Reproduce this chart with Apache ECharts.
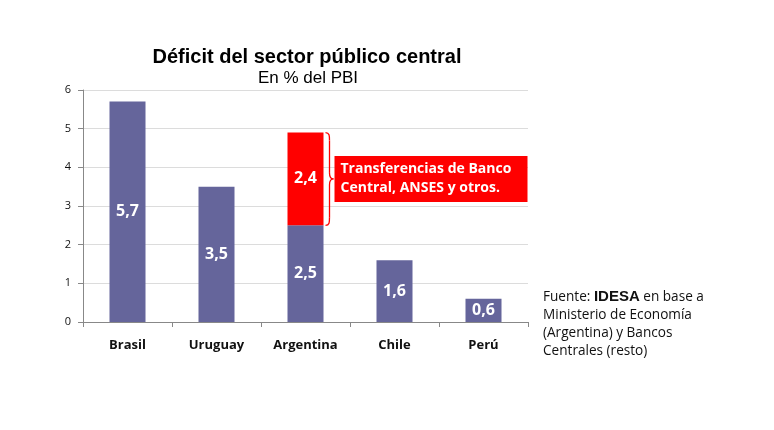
<!DOCTYPE html>
<html><head><meta charset="utf-8">
<script src="https://cdn.jsdelivr.net/npm/echarts@6/dist/echarts.min.js"></script>
<style>html,body{margin:0;padding:0;background:#fff}#c{width:774px;height:430px}</style>
</head><body><div id="c"></div>
<script>
const categories = ['Brasil', 'Uruguay', 'Argentina', 'Chile', 'Perú'];
const baseValues = [5.7, 3.5, 2.5, 1.6, 0.6];
const extraValues = [null, null, 2.4, null, null];
const yTicks = [0, 1, 2, 3, 4, 5, 6];
const titleText = 'Déficit del sector público central';
const subtitleText = 'En % del PBI';
const noteLines = ['Transferencias de Banco', 'Central, ANSES y otros.'];

const fmt = v => String(v).replace('.', ',');
const chart = echarts.init(document.getElementById('c'));
const barColor = '#65659B';
const labelStyle = {show: true, position: 'inside', color: '#fff', fontFamily: 'Open Sans', fontWeight: 'bold', fontSize: 16,
  formatter: p => p.value == null ? '' : fmt(p.value)};

chart.setOption({
  animation: false,
  title: [
    {text: titleText, left: 302, top: 42, textAlign: 'center', textStyle: {fontFamily: 'Liberation Sans', fontSize: 20, fontWeight: 'bold', color: '#000'}},
    {text: subtitleText, left: 303, top: 65, textAlign: 'center', textStyle: {fontFamily: 'Liberation Sans', fontSize: 17, fontWeight: 'normal', color: '#000'}}
  ],
  grid: {left: 83, right: 246, top: 90, bottom: 108},
  xAxis: {type: 'category', data: categories,
    axisLine: {lineStyle: {color: '#888'}}, axisTick: {show: true, length: 5, lineStyle: {color: '#888'}},
    axisLabel: {color: '#111', fontFamily: 'Open Sans', fontWeight: 'bold', fontSize: 13, margin: 17}},
  yAxis: {type: 'value', min: yTicks[0], max: yTicks[yTicks.length - 1], interval: 1,
    axisLine: {show: true, lineStyle: {color: '#888'}}, axisTick: {show: true, length: 5, lineStyle: {color: '#888'}},
    splitLine: {lineStyle: {color: '#dcdcdc'}},
    axisLabel: {color: '#111', fontFamily: 'Open Sans', fontSize: 11, margin: 12, formatter: v => fmt(v)}},
  series: [
    {type: 'bar', stack: 's', data: baseValues, barWidth: 36, itemStyle: {color: barColor}, label: labelStyle},
    {type: 'bar', stack: 's', data: extraValues, barWidth: 36, itemStyle: {color: '#FF0000'}, label: labelStyle}
  ]
});

// annotation brace + box, positioned from axis scales
const ai = 2;
const pTop = chart.convertToPixel({seriesIndex: 0}, [ai, baseValues[ai] + extraValues[ai]]);
const pBot = chart.convertToPixel({seriesIndex: 0}, [ai, baseValues[ai]]);
const bx = pTop[0] + 18 + 2;
const y0 = pTop[1], y1 = pBot[1], ym = (y0 + y1) / 2;
const w = 4;
const bs = {stroke: '#FF0000', lineWidth: 1.3, fill: null};
const bz = (x1, yA, cx1, cy1, cx2, cy2, x2, yB) => ({type: 'bezierCurve', shape: {x1: x1, y1: yA, cpx1: cx1, cpy1: cy1, cpx2: cx2, cpy2: cy2, x2: x2, y2: yB}, style: bs});
const ln = (x1, yA, x2, yB) => ({type: 'line', shape: {x1: x1, y1: yA, x2: x2, y2: yB}, style: bs});
const X = bx + w;
chart.setOption({graphic: [
  bz(bx, y0, X, y0, X, y0 + 3, X, y0 + 8),
  ln(X, y0 + 8, X, ym - 6),
  bz(X, ym - 6, X, ym - 2, X + 2, ym, X + 4, ym),
  bz(X + 4, ym, X + 2, ym, X, ym + 2, X, ym + 6),
  ln(X, ym + 6, X, y1 - 8),
  bz(X, y1 - 8, X, y1 - 3, X, y1, bx, y1),
  {type: 'rect', shape: {x: bx + 9, y: ym - 23, width: 193, height: 46}, style: {fill: '#FF0000'}},
  {type: 'text', x: bx + 15, y: ym - 19, style: {text: noteLines.join('\n'), fill: '#fff', font: 'bold 14px "Open Sans"', lineHeight: 19}},
  {type: 'text', x: 543, y: 288, style: {rich: {
      n: {font: '13.6px "Open Sans"', fill: '#111', lineHeight: 18},
      b: {font: 'bold 15px "Liberation Sans"', fill: '#111', lineHeight: 18}},
    text: '{n|Fuente: }{b|IDESA}{n| en base a}\n{n|Ministerio de Economía}\n{n|(Argentina) y Bancos}\n{n|Centrales (resto)}'}}
]});
</script></body></html>
